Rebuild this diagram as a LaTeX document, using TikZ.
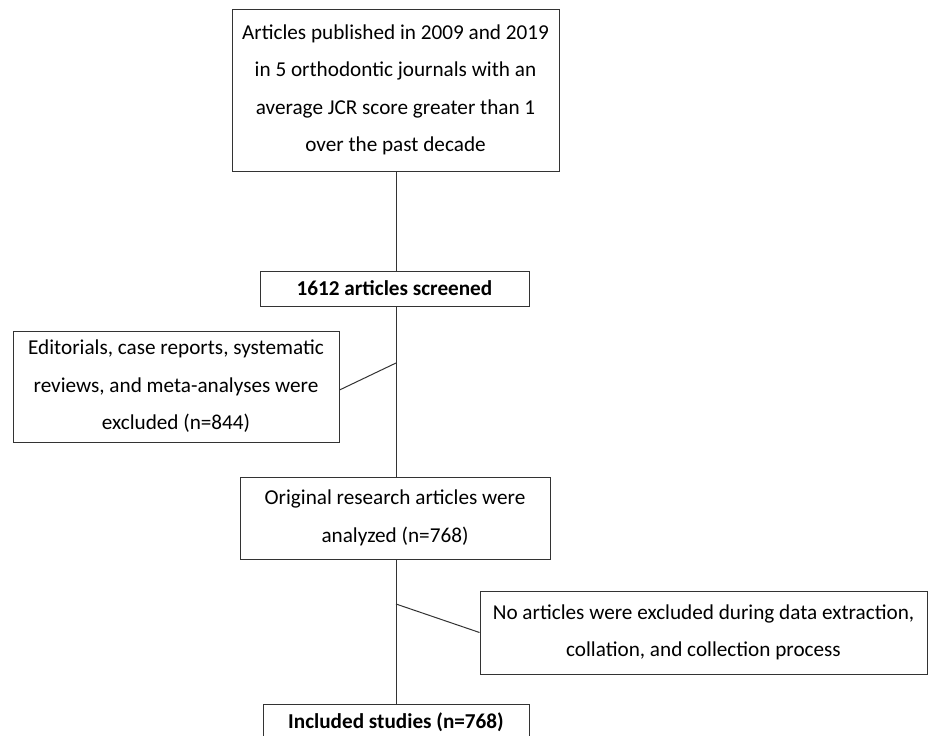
\documentclass[tikz,border=0pt]{standalone}
\usepackage{fontspec}
\setmainfont{Carlito}
\begin{document}
\begin{tikzpicture}[x=1pt,y=-1pt,
  box/.style={draw=black!80,line width=1pt,inner sep=0pt,align=center,
    font=\fontsize{21.2}{37.5}\selectfont,text=black},
  conn/.style={draw=black!80,line width=1pt}]
\useasboundingbox[fill=white] (0,0) rectangle (929,736);
\node[box,minimum width=327,minimum height=162] (top) at (395.5,90)
  {Articles published in 2009 and 2019\\in 5 orthodontic journals with an\\average JCR score greater than 1\\over the past decade};
\node[box,minimum width=269,minimum height=35,font=\fontsize{21.2}{37.5}\selectfont\bfseries] (scr) at (394.5,288.5)
  {1612 articles screened};
\node[box,minimum width=326,minimum height=111] (exc) at (176,386.5)
  {Editorials, case reports, systematic\\reviews, and meta-analyses were\\excluded (n=844)};
\node[box,minimum width=310,minimum height=82] (orig) at (395,518)
  {Original research articles were\\analyzed (n=768)};
\node[box,minimum width=447,minimum height=83] (noart) at (703.5,632.5)
  {No articles were excluded during data extraction,\\collation, and collection process};
\node[box,minimum width=266,minimum height=36,font=\fontsize{21.2}{37.5}\selectfont\bfseries] (inc) at (396,722)
  {Included studies (n=768)};
\coordinate (j1) at (396,363);
\coordinate (j2) at (396,604);
\draw[conn] (top.south -| j1) -- (scr.north -| j1);
\draw[conn] (scr.south -| j1) -- (orig.north -| j1);
\draw[conn] (orig.south -| j1) -- (inc.north -| j1);
\draw[conn] (exc.east |- 0,390) -- (j1);
\draw[conn] (j2) -- (noart.west);
\end{tikzpicture}
\end{document}
